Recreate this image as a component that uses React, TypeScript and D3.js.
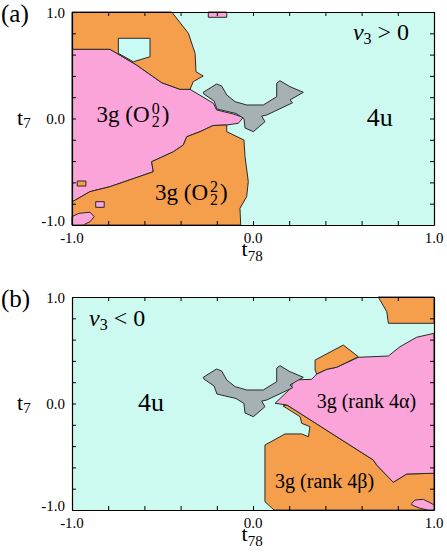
import { useEffect, useRef } from 'react';
import * as d3 from 'd3';

const W = 447;
const H = 556;

// ticks every 0.2 on all four sides, labels only at -1, 0, 1
const tickValues = [-1, -0.8, -0.6, -0.4, -0.2, 0, 0.2, 0.4, 0.6, 0.8, 1];
const tickLabels = [-1, 0, 1];

// region outlines, points are [t78, t7]
// panel (a): v3 > 0
const aPinkMain = [
  [-1, 0.65], [-0.79, 0.65], [-0.643, 0.502], [-0.578, 0.424], [-0.504, 0.336], [-0.403, 0.274],
  [-0.348, 0.274], [-0.219, 0.143], [-0.201, 0.08], [-0.109, 0.042], [-0.054, 0.011], [-0.081, -0.045],
  [-0.145, -0.061], [-0.221, -0.066], [-0.293, -0.124], [-0.366, -0.171], [-0.385, -0.249], [-0.44, -0.312],
  [-0.56, -0.406], [-0.551, -0.5], [-0.79, -0.64], [-0.901, -0.687], [-1, -0.784],
];
const aOrangeTop = [
  [-1, 1], [-0.449, 1], [-0.357, 0.8], [-0.32, 0.612], [-0.315, 0.439], [-0.275, 0.399], [-0.33, 0.346],
  [-0.348, 0.274], [-0.403, 0.274], [-0.504, 0.336], [-0.578, 0.424], [-0.643, 0.502], [-0.79, 0.65], [-1, 0.65],
];
const aOrangeBottom = [
  [-1, -0.784], [-0.901, -0.687], [-0.79, -0.64], [-0.551, -0.5], [-0.56, -0.406], [-0.44, -0.312],
  [-0.385, -0.249], [-0.366, -0.171], [-0.293, -0.124], [-0.221, -0.066], [-0.145, -0.061], [-0.145, -0.124],
  [-0.05, -0.202], [-0.044, -0.359], [-0.026, -0.593], [-0.035, -0.734], [-0.072, -0.843], [-0.068, -1], [-1, -1],
];
const aCyanBox = [[-0.744, 0.753], [-0.569, 0.753], [-0.569, 0.58], [-0.661, 0.533], [-0.744, 0.612]];
const aPinkTopRect = [[-0.247, 1], [-0.145, 1], [-0.145, 0.95], [-0.247, 0.95]];
const aOrangeRect = [[-0.971, -0.587], [-0.923, -0.587], [-0.923, -0.634], [-0.971, -0.634]];
const aPinkRect = [[-0.869, -0.781], [-0.822, -0.781], [-0.822, -0.834], [-0.869, -0.834]];
const aPinkCorner = [
  [-1, -0.922], [-0.961, -0.89], [-0.901, -0.88], [-0.877, -0.922], [-0.901, -0.969], [-0.938, -1], [-1, -1],
];

// grey region, the same in both panels
const grayRegion = [
  [-0.275, 0.246], [-0.201, 0.324], [-0.173, 0.305], [-0.145, 0.221], [-0.099, 0.158], [-0.035, 0.127],
  [0.057, 0.127], [0.131, 0.205], [0.131, 0.331], [0.149, 0.355], [0.204, 0.299], [0.278, 0.246],
  [0.204, 0.174], [0.219, 0.148], [0.076, 0.033], [0.048, 0.023], [0.066, -0.03], [0.002, -0.124],
  [-0.044, -0.089], [-0.05, 0.0], [-0.094, 0.047], [-0.199, 0.089], [-0.215, 0.164], [-0.271, 0.23],
];

// panel (b): v3 < 0
const bOrangeBottom = [
  [0.166, -0.023], [0.26, -0.124], [0.269, -0.186], [0.315, -0.218], [0.306, -0.312], [0.269, -0.286],
  [0.177, -0.286], [0.066, -0.39], [0.066, -0.922], [0.116, -1], [1, -1], [1, -0.655], [0.849, -0.662],
  [0.775, -0.74], [0.683, -0.577], [0.665, -0.531], [0.188, -0.014],
];
const bPink = [
  [0.122, 0.002], [0.214, 0.152], [0.219, 0.221], [0.324, 0.227], [0.352, 0.277], [0.407, 0.321],
  [0.462, 0.34], [0.582, 0.434], [0.748, 0.446], [0.812, 0.533], [0.904, 0.622], [1, 0.659], [1, -0.655],
  [0.849, -0.662], [0.775, -0.74], [0.683, -0.577], [0.665, -0.531], [0.188, -0.014],
];
const bOrangeMid = [
  [0.343, 0.408], [0.499, 0.549], [0.582, 0.439], [0.462, 0.34], [0.407, 0.321], [0.352, 0.277], [0.343, 0.315],
];
const bOrangeCorner = [[0.692, 1], [1, 1], [1, 0.753], [0.748, 0.753], [0.739, 0.862]];
const bPinkCorner = [
  [0.877, -0.937], [0.895, -0.906], [0.941, -0.9], [0.978, -0.931], [1, -0.953], [1, -1], [0.967, -1],
  [0.923, -0.984], [0.877, -0.953],
];

const CYAN = '#cdfaf0';
const ORANGE = '#f59f4c';
const PINK = '#fba4da';
const GRAY = '#a6b1b3';

export default function App() {
  const svgRef = useRef(null);

  useEffect(() => {
    const svg = d3.select(svgRef.current);
    svg.selectAll('*').remove();

    const x = d3.scaleLinear().domain([-1, 1]).range([72, 434]);

    const drawPanel = (top, layers, tag, sign) => {
      const y = d3.scaleLinear().domain([-1, 1]).range([top + 213, top]);
      const g = svg.append('g');
      const line = d3.line().x(d => x(d[0])).y(d => y(d[1])).curve(d3.curveLinearClosed);

      g.append('rect')
        .attr('x', x(-1)).attr('y', y(1))
        .attr('width', x(1) - x(-1)).attr('height', y(-1) - y(1))
        .attr('fill', CYAN);

      layers.forEach(([pts, fill]) => {
        g.append('path')
          .attr('d', line(pts))
          .attr('fill', fill)
          .attr('stroke', '#2a2a2a')
          .attr('stroke-width', 1)
          .attr('stroke-linejoin', 'round');
      });

      // ticks (inward) on all sides
      const noText = () => '';
      g.append('g').attr('transform', `translate(0,${y(-1)})`)
        .call(d3.axisBottom(x).tickValues(tickValues).tickSize(-4).tickSizeOuter(0).tickFormat(noText));
      g.append('g').attr('transform', `translate(0,${y(1)})`)
        .call(d3.axisTop(x).tickValues(tickValues).tickSize(-4).tickSizeOuter(0).tickFormat(noText));
      g.append('g').attr('transform', `translate(${x(-1)},0)`)
        .call(d3.axisLeft(y).tickValues(tickValues).tickSize(-4).tickSizeOuter(0).tickFormat(noText));
      g.append('g').attr('transform', `translate(${x(1)},0)`)
        .call(d3.axisRight(y).tickValues(tickValues).tickSize(-4).tickSizeOuter(0).tickFormat(noText));
      g.selectAll('.domain').attr('stroke-width', 1.2);

      // tick labels
      const yShift = { '1': 6, '0': 5.5, '-1': 1 };
      tickLabels.forEach(v => {
        g.append('text')
          .attr('x', 65).attr('y', y(v) + yShift[String(v)])
          .attr('text-anchor', 'end').attr('font-size', 15)
          .text(v.toFixed(1));
        g.append('text')
          .attr('x', x(v)).attr('y', y(-1) + 18)
          .attr('text-anchor', 'middle').attr('font-size', 15)
          .text(v.toFixed(1));
      });

      // axis titles
      const t7 = g.append('text').attr('x', 17).attr('y', y(0) + 6.5).attr('font-size', 22).text('t');
      t7.append('tspan').attr('font-size', 15).attr('dy', 3).text('7');
      const t78 = g.append('text').attr('x', 241.5).attr('y', y(-1) + 31).attr('font-size', 22).text('t');
      t78.append('tspan').attr('font-size', 15).attr('dy', 5).text('78');

      // panel tag
      g.append('text').attr('x', 1).attr('y', top + 9.5).attr('font-size', 25).text(tag);

      // v3 sign label
      const vx = sign === '>' ? 0.552 : -0.906;
      const vy = sign === '>' ? 0.737 : 0.728;
      const vt = g.append('text').attr('x', x(vx)).attr('y', y(vy)).attr('font-size', 24);
      vt.append('tspan').attr('font-style', 'italic').text('v');
      vt.append('tspan').attr('font-size', 16).attr('dy', 4).text('3');
      vt.append('tspan').attr('dy', -4).text(` ${sign} 0`);

      return { g, y };
    };

    // panel (a)
    const a = drawPanel(12, [
      [aPinkMain, PINK],
      [aOrangeTop, ORANGE],
      [aOrangeBottom, ORANGE],
      [aCyanBox, '#c8fbf6'],
      [aPinkTopRect, PINK],
      [aOrangeRect, ORANGE],
      [aPinkRect, PINK],
      [aPinkCorner, PINK],
      [grayRegion, GRAY],
    ], '(a)', '>');

    const orbital = (g, px, py, sup) => {
      const t = g.append('text').attr('x', px).attr('y', py).attr('font-size', 23).text('3g (O');
      const w = t.node().getComputedTextLength();
      g.append('text').attr('x', px + w + 2).attr('y', py - 8).attr('font-size', 16).text(sup);
      g.append('text').attr('x', px + w + 2).attr('y', py + 5).attr('font-size', 16).text('2');
      g.append('text').attr('x', px + w + 12).attr('y', py).attr('font-size', 23).text(')');
    };
    orbital(a.g, x(-0.864), a.y(-0.036), '0');
    orbital(a.g, x(-0.541), a.y(-0.765), '2');
    a.g.append('text').attr('x', x(0.628)).attr('y', a.y(-0.07)).attr('font-size', 26).text('4u');

    // panel (b)
    const b = drawPanel(297, [
      [bOrangeBottom, ORANGE],
      [bPink, PINK],
      [bOrangeMid, ORANGE],
      [bOrangeCorner, ORANGE],
      [grayRegion, GRAY],
      [bPinkCorner, PINK],
    ], '(b)', '<');

    b.g.append('text').attr('x', x(-0.635)).attr('y', b.y(-0.075)).attr('font-size', 26).text('4u');
    b.g.append('text').attr('x', x(0.352)).attr('y', b.y(-0.039)).attr('font-size', 20).text('3g (rank 4α)');
    b.g.append('text').attr('x', x(0.122)).attr('y', b.y(-0.793)).attr('font-size', 20).text('3g (rank 4β)');
  }, []);

  return (
    <svg
      ref={svgRef}
      width={W}
      height={H}
      style={{ position: 'absolute', left: 0, top: 0, background: '#fff' }}
      fontFamily="'Liberation Serif', 'Times New Roman', serif"
    />
  );
}
